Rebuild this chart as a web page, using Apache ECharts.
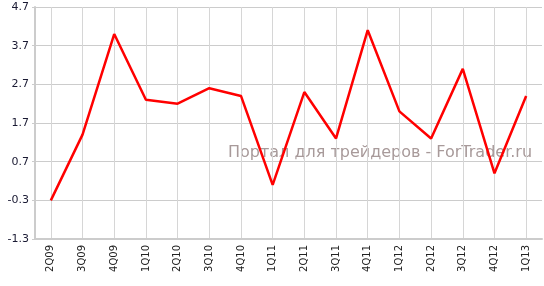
<!DOCTYPE html>
<html><head><meta charset="utf-8">
<script src="https://cdn.jsdelivr.net/npm/echarts@6/dist/echarts.min.js"></script>
<style>html,body{margin:0;padding:0;background:#fff}#c{width:544px;height:286px}</style>
</head><body><div id="c"></div>
<script>
const categories = ['2Q09','3Q09','4Q09','1Q10','2Q10','3Q10','4Q10','1Q11','2Q11','3Q11','4Q11','1Q12','2Q12','3Q12','4Q12','1Q13'];
const values = [-0.3, 1.4, 4.0, 2.3, 2.2, 2.6, 2.4, 0.1, 2.5, 1.3, 4.1, 2.0, 1.3, 3.1, 0.4, 2.4];
const yTicks = [-1.3, -0.3, 0.7, 1.7, 2.7, 3.7, 4.7];
const watermark = 'Портал для трейдеров - ForTrader.ru';

const chart = echarts.init(document.getElementById('c'));
chart.setOption({
  animation: false,
  grid: { left: 35, right: 2, top: 7, bottom: 47 },
  graphic: [{
    type: 'text', left: 228, top: 145, z: 0,
    style: { text: watermark, fill: '#a89a9a', font: '16px "DejaVu Sans", sans-serif' }
  }],
  xAxis: {
    type: 'category', data: categories, boundaryGap: true,
    axisLine: { onZero: false, lineStyle: { color: '#cccccc', width: 2 } },
    axisTick: { alignWithLabel: true, length: 4, lineStyle: { color: '#cccccc' } },
    axisLabel: { rotate: 90, fontSize: 10, color: '#222', fontFamily: 'DejaVu Sans', margin: 6 },
    splitLine: { show: true, alignWithLabel: true, lineStyle: { color: '#d6d6d6', width: 1 } }
  },
  yAxis: {
    type: 'value', min: yTicks[0], max: yTicks[yTicks.length - 1], interval: 1,
    axisLine: { show: true, lineStyle: { color: '#cccccc', width: 2 } },
    axisTick: { show: true, length: 3, lineStyle: { color: '#cccccc' } },
    axisLabel: { fontSize: 11, color: '#1a1a33', fontFamily: 'DejaVu Sans', margin: 6,
      formatter: v => v.toFixed(1) },
    splitLine: { lineStyle: { color: '#cccccc', width: 1 } }
  },
  series: [{
    type: 'line', data: values, symbol: 'none', z: 5,
    lineStyle: { color: '#ff0000', width: 2.5 }
  }]
});
</script></body></html>
